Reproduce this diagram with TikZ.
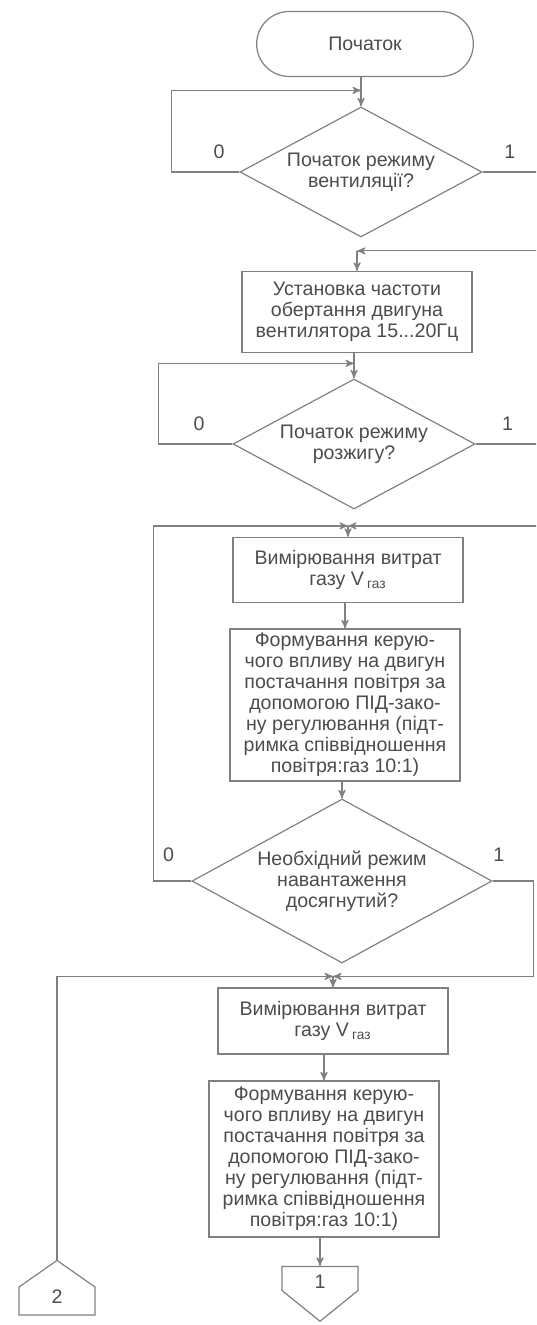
\documentclass[tikz,border=0pt]{standalone}
\usepackage{fontspec}
\setmainfont{Liberation Sans}
\usetikzlibrary{shapes, arrows, positioning}

\begin{document}
\begin{tikzpicture}[->,>=stealth',semithick,color=black!50,text=black!70,
                     font=\fontsize{9.8}{10.5}\selectfont,node distance=66pt,
                     term node/.style={rounded rectangle,draw,minimum width=115pt,minimum height=32.5pt},
                     test node/.style={diamond,draw,aspect=1.85,inner sep=0pt,align=center,
                                       minimum width=121pt,minimum height=65pt},
                     box node/.style={rectangle,draw,align=center,inner sep=2pt,minimum width=115pt},
                     link node/.style={signal,draw,inner sep=1pt,minimum width=38pt}]

  \useasboundingbox (0,0) rectangle (268pt,-662.5pt);
  \clip (0,0) rectangle (268pt,-662.5pt);

  \node[term node] (1) at (182.5pt,-22pt) {Початок};
  \node[test node] (2) [below of=1, node distance=64pt, xshift=-2pt] {Початок режиму\\вентиляції?};
  \node[box node, minimum height=40.5pt] (3) [below of=2, node distance=70pt, xshift=-2pt]
       {Установка частоти\\обертання двигуна\\вентилятора 15...20Гц};
  \node[test node] (4) [below of=3, node distance=66pt, xshift=-1.5pt] {Початок режиму\\розжигу?};
  \node[box node, minimum height=32.5pt] (5) [below of=4, node distance=63pt, xshift=-3pt]
       {Вимірювання витрат\\газу V\,\textsubscript{газ}};
  \node[box node, minimum height=76pt] (6) [below of=5, node distance=67.5pt, xshift=-1.5pt]
       {Формування керую-\\чого впливу на двигун\\постачання повітря за\\допомогою ПІД-зако-\\ну регулювання (підт-\\римка співвідношення\\повітря:газ 10:1)};
  \node[test node, minimum width=150pt, minimum height=82pt] (7) [below of=6, node distance=88pt, xshift=-1.5pt]
       {Необхідний режим\\навантаження\\досягнутий?};
  \node[box node, minimum height=33pt] (8) [below of=7, node distance=70pt, xshift=-4.5pt]
       {Вимірювання витрат\\газу V\,\textsubscript{газ}};
  \node[box node, minimum height=78pt] (9) [below of=8, node distance=69pt, xshift=-4.5pt]
       {Формування керую-\\чого впливу на двигун\\постачання повітря за\\допомогою ПІД-зако-\\ну регулювання (підт-\\римка співвідношення\\повітря:газ 10:1)};
  \node[link node, signal to=south, signal pointer angle=102, minimum height=13.5pt,
        text height=10pt, text depth=0pt] (10)
       [below of=9, node distance=59.75pt, xshift=-2pt] {1};
  \node[link node, signal to=north, signal pointer angle=110, minimum height=16pt,
        text height=7pt, text depth=5pt] (11)
       [left of=10, node distance=131.5pt, yshift=-11.25pt] {2};

  % junctions above the blocks
  \coordinate (j1) at ([yshift=8pt]2.north);
  \coordinate (j2) at ([yshift=10pt]3.north);
  \coordinate (j3) at ([yshift=7.5pt]4.north);
  \coordinate (j4) at ([yshift=5.5pt]5.north);
  \coordinate (j5) at ([yshift=5.5pt]8.north);

  \draw (2.north |- 1.south) -- (2.north);
  \draw (2.west) -- node[above=3pt, pos=.3] {0} ++(-34pt,0) |- (j1);
  \draw (2.east) -- node[above=3pt, pos=.4] {1} ++(34pt,0) |- (j2);
  \draw (j2) -- (3.north);

  \draw (4.north |- 3.south) -- (4.north);
  \draw (4.west) -- node[above=3pt, pos=.45] {0} ++(-37pt,0) |- (j3);
  \draw (4.east) -- node[above=3pt, pos=.4] {1} ++(40pt,0) |- (j4);
  \draw (j4) -- (5.north);
  \draw (6.north |- 5.south) -- (6.north);
  \draw (7.north |- 6.south) -- (7.north);

  \draw (7.west) -- node[above=6pt, pos=.6] {0} ++(-19pt,0) |- (j4);
  \draw (7.east) -- node[above=6pt, pos=.15] {1} ++(20.5pt,0) |- (j5);
  \draw (11.north) |- (j5);
  \draw (j5) -- (8.north);
  \draw (9.north |- 8.south) -- (9.north);
  \draw (10.north |- 9.south) -- (10.north);
\end{tikzpicture}
\end{document}
